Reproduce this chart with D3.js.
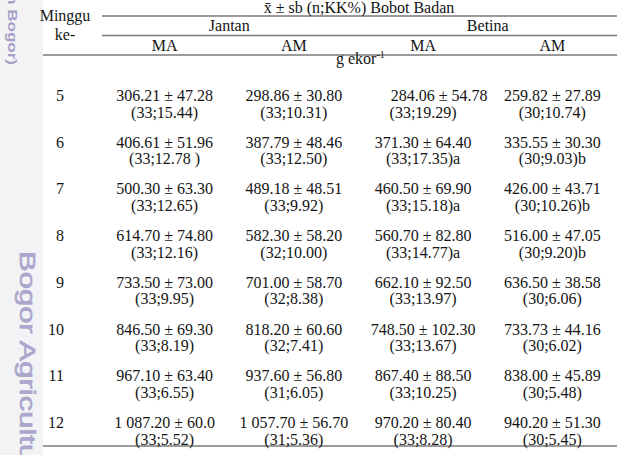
<!DOCTYPE html>
<html>
<head>
<meta charset="utf-8">
<script src="https://cdn.jsdelivr.net/npm/d3@7"></script>
<style>
  body { margin: 0; background: #fff; }
  svg { display: block; }
  svg text { font-family: 'Liberation Serif', 'Times New Roman', Times, 'DejaVu Serif', serif; font-size: 16px; fill: #141414; white-space: pre; }
  .rule { stroke: #7a7a7a; stroke-width: 1.4; }
  svg text.wm { font-family: 'Liberation Sans', Arial, sans-serif; fill: #aaa6cc; stroke: #aaa6cc; stroke-width: 0.9; }
</style>
</head>
<body>
<svg width="622" height="455"></svg>
<script>
const weeks = [5, 6, 7, 8, 9, 10, 11, 12];

const sexes = ["Jantan", "Betina"];
const groups = ["MA", "AM", "MA", "AM"];

// mean ± sd, then (n;KK%) per column
const jantanMA = ["306.21 ± 47.28", "406.61 ± 51.96", "500.30 ± 63.30", "614.70 ± 74.80",
  "733.50 ± 73.00", "846.50 ± 69.30", "967.10 ± 63.40", "1 087.20 ± 60.0"];
const jantanMAnk = ["(33;15.44)", "(33;12.78 )", "(33;12.65)", "(33;12.16)",
  "(33;9.95)", "(33;8.19)", "(33;6.55)", "(33;5.52)"];

const jantanAM = ["298.86 ± 30.80", "387.79 ± 48.46", "489.18 ± 48.51", "582.30 ± 58.20",
  "701.00 ± 58.70", "818.20 ± 60.60", "937.60 ± 56.80", "1 057.70 ± 56.70"];
const jantanAMnk = ["(33;10.31)", "(33;12.50)", "(33;9.92)", "(32;10.00)",
  "(32;8.38)", "(32;7.41)", "(31;6.05)", "(31;5.36)"];

const betinaMA = ["\u00a0\u00a0\u00a0\u00a0\u00a0\u00a0\u00a0\u00a0284.06 ± 54.78", "371.30 ± 64.40", "460.50 ± 69.90", "560.70 ± 82.80",
  "662.10 ± 92.50", "748.50 ± 102.30", "867.40 ± 88.50", "970.20 ± 80.40"];
const betinaMAnk = ["(33;19.29)", "(33;17.35)a", "(33;15.18)a", "(33;14.77)a",
  "(33;13.97)", "(33;13.67)", "(33;10.25)", "(33;8.28)"];

const betinaAM = ["259.82 ± 27.89", "335.55 ± 30.30", "426.00 ± 43.71", "516.00 ± 47.05",
  "636.50 ± 38.58", "733.73 ± 44.16", "838.00 ± 45.89", "940.20 ± 51.30"];
const betinaAMnk = ["(30;10.74)", "(30;9.03)b", "(30;10.26)b", "(30;9.20)b",
  "(30;6.06)", "(30;6.02)", "(30;5.48)", "(30;5.45)"];

const columns = [
  { top: jantanMA, bottom: jantanMAnk },
  { top: jantanAM, bottom: jantanAMnk },
  { top: betinaMA, bottom: betinaMAnk },
  { top: betinaAM, bottom: betinaAMnk }
];

const svg = d3.select("svg");

// scanned page margin with watermark
svg.append("rect").attr("x", 0).attr("y", 0).attr("width", 43).attr("height", 455).attr("fill", "#f3f3f6");
svg.append("text").attr("class", "wm")
  .attr("transform", "translate(20,251) rotate(90) scale(1,0.72)")
  .style("font-size", "31px")
  .text("Bogor Agricultu");
svg.append("text").attr("class", "wm")
  .attr("transform", "translate(8,65) rotate(90) scale(1,0.75)")
  .attr("text-anchor", "end")
  .style("font-size", "17px")
  .style("font-weight", "bold")
  .style("stroke-width", 0)
  .style("fill", "#a29ec6")
  .text("Pertanian Bogor)");

const col = d3.scaleBand().domain(d3.range(4)).range([100, 617]);
const sexX = d3.scaleBand().domain(sexes).range([100, 617]);
const row = d3.scalePoint().domain(weeks).range([101, 428]);

const cx = i => col(i) + col.bandwidth() / 2;

// rules
const rules = [
  { y: 16, x1: 102, x2: 617 },
  { y: 35.5, x1: 102, x2: 617 },
  { y: 55, x1: 43, x2: 617 },
  { y: 446, x1: 43, x2: 617 }
];
svg.selectAll("line.rule").data(rules).enter().append("line")
  .attr("class", "rule")
  .attr("x1", d => d.x1).attr("x2", d => d.x2)
  .attr("y1", d => d.y).attr("y2", d => d.y);

// header
svg.append("text").attr("x", 65).attr("y", 21).attr("text-anchor", "middle").text("Minggu");
svg.append("text").attr("x", 65).attr("y", 40).attr("text-anchor", "middle").text("ke-");

svg.append("text").attr("x", 359).attr("y", 12.5).attr("text-anchor", "middle")
  .text("x\u0304 ± sb (n;KK%) Bobot Badan");

svg.selectAll("text.sex").data(sexes).enter().append("text")
  .attr("class", "sex")
  .attr("x", d => sexX(d) + sexX.bandwidth() / 2)
  .attr("y", 31)
  .attr("text-anchor", "middle")
  .text(d => d);

svg.selectAll("text.grp").data(groups).enter().append("text")
  .attr("class", "grp")
  .attr("x", (d, i) => cx(i))
  .attr("y", 51)
  .attr("text-anchor", "middle")
  .text(d => d);

const unit = svg.append("text").attr("x", 336).attr("y", 64);
unit.append("tspan").text("g ekor");
unit.append("tspan").attr("dy", -6).style("font-size", "10px").text("-1");

// body
svg.selectAll("text.week").data(weeks).enter().append("text")
  .attr("class", "week")
  .attr("x", 64)
  .attr("y", d => row(d))
  .attr("text-anchor", "end")
  .text(d => d);

columns.forEach(function (c, i) {
  const g = svg.append("g");
  g.selectAll("text.m").data(weeks).enter().append("text")
    .attr("class", "m")
    .attr("x", cx(i))
    .attr("y", d => row(d))
    .attr("text-anchor", "middle")
    .text((d, j) => c.top[j]);
  g.selectAll("text.n").data(weeks).enter().append("text")
    .attr("class", "n")
    .attr("x", cx(i))
    .attr("y", d => row(d) + 16.5)
    .attr("text-anchor", "middle")
    .text((d, j) => c.bottom[j]);
});
</script>
</body>
</html>
